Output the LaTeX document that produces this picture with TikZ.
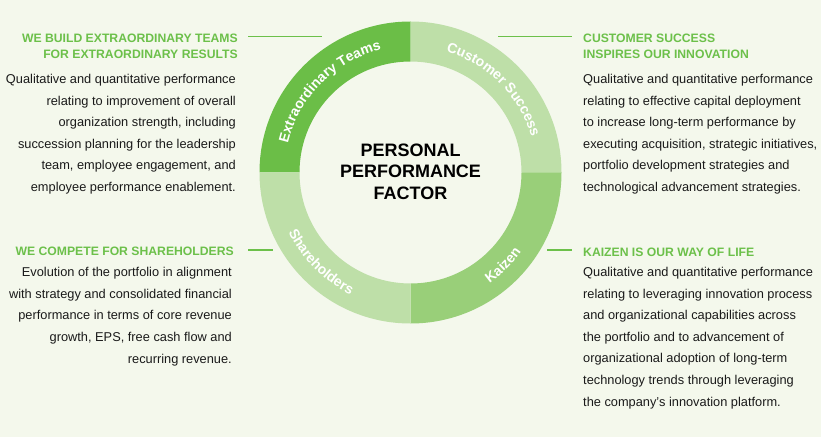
\documentclass[tikz,border=0pt]{standalone}
\usepackage{fontspec}
\setmainfont{Liberation Sans}
\usetikzlibrary{decorations.text}
\definecolor{bgc}{HTML}{F4F8EC}
\definecolor{segdark}{HTML}{6BBE47}
\definecolor{seglight}{HTML}{BEDFA8}
\definecolor{segmid}{HTML}{99CF79}
\definecolor{headgreen}{HTML}{6CC04A}
\definecolor{bodyc}{HTML}{1A1A1A}
\tikzset{
  headtxt/.style={inner sep=0pt, text=headgreen, font=\fontsize{12.2}{16}\selectfont\bfseries},
  bodytxt/.style={inner sep=0pt, text=bodyc, font=\fontsize{12.8}{21.6}\selectfont},
  leadline/.style={draw=headgreen, line width=1.5pt},
  ringlabel/.style={decorate, decoration={text along path, text align=center,
      text={|\fontsize{14}{15}\selectfont\bfseries\color{white}|#1}}}
}
\begin{document}
\begin{tikzpicture}[x=1pt,y=1pt]
\useasboundingbox (0,0) rectangle (821,437);
\fill[bgc] (0,0) rectangle (821,437);
\coordinate (c) at (410.5,264.5);
% ring segments
\fill[segdark] ([shift={(90:151)}]c) arc[start angle=90,end angle=180,radius=151]
  -- ([shift={(180:111)}]c) arc[start angle=180,end angle=90,radius=111] -- cycle;
\fill[seglight] ([shift={(0:151)}]c) arc[start angle=0,end angle=90,radius=151]
  -- ([shift={(90:111)}]c) arc[start angle=90,end angle=0,radius=111] -- cycle;
\fill[segmid] ([shift={(270:151)}]c) arc[start angle=270,end angle=360,radius=151]
  -- ([shift={(0:111)}]c) arc[start angle=360,end angle=270,radius=111] -- cycle;
\fill[seglight] ([shift={(180:151)}]c) arc[start angle=180,end angle=270,radius=151]
  -- ([shift={(270:111)}]c) arc[start angle=270,end angle=180,radius=111] -- cycle;
% ring labels
\path[ringlabel={Extraordinary Teams}] ([shift={(180:126)}]c) arc[start angle=180,end angle=90,radius=126];
\path[ringlabel={Customer Success}] ([shift={(90:126)}]c) arc[start angle=90,end angle=0,radius=126];
\path[ringlabel={Shareholders}] ([shift={(180:136)}]c) arc[start angle=180,end angle=270,radius=136];
\path[ringlabel={Kaizen}] ([shift={(270:136)}]c) arc[start angle=270,end angle=360,radius=136];
% centre
\node[align=center, inner sep=0pt, font=\fontsize{18}{21.5}\selectfont\bfseries, text=black] (ppf) at (410.5,265.5)
  {PERSONAL\\PERFORMANCE\\FACTOR};
% lead lines
\coordinate (l1a) at (248,400.3); \coordinate (l1b) at (322,400.3);
\coordinate (l2a) at (498,400.3); \coordinate (l2b) at (572,400.3);
\coordinate (l3a) at (248,187);   \coordinate (l3b) at (273,187);
\coordinate (l4a) at (547,187);   \coordinate (l4b) at (572,187);
\draw[leadline] (l1a) -- (l1b);
\draw[leadline] (l2a) -- (l2b);
\draw[leadline] (l3a) -- (l3b);
\draw[leadline] (l4a) -- (l4b);
% top left
\node[headtxt, align=right, anchor=north east] (h1) at (238,403.3)
  {WE BUILD EXTRAORDINARY TEAMS\\FOR EXTRAORDINARY RESULTS};
\node[bodytxt, align=right, anchor=north east] (b1) at (236,363)
  {Qualitative and quantitative performance\\relating to improvement of overall\\organization strength, including\\succession planning for the leadership\\team, employee engagement, and\\employee performance enablement.};
% top right
\node[headtxt, align=left, anchor=north west] (h2) at (583,403.3)
  {CUSTOMER SUCCESS\\INSPIRES OUR INNOVATION};
\node[bodytxt, align=left, anchor=north west] (b2) at (583,363)
  {Qualitative and quantitative performance\\relating to effective capital deployment\\to increase long-term performance by\\executing acquisition, strategic initiatives,\\portfolio development strategies and\\technological advancement strategies.};
% bottom left
\node[headtxt, align=right, anchor=north east] (h3) at (234,190.3)
  {WE COMPETE FOR SHAREHOLDERS};
\node[bodytxt, align=right, anchor=north east] (b3) at (232,169.7)
  {Evolution of the portfolio in alignment\\with strategy and consolidated financial\\performance in terms of core revenue\\growth, EPS, free cash flow and\\recurring revenue.};
% bottom right
\node[headtxt, align=left, anchor=north west] (h4) at (583,189.3)
  {KAIZEN IS OUR WAY OF LIFE};
\node[bodytxt, align=left, anchor=north west] (b4) at (583,170)
  {Qualitative and quantitative performance\\relating to leveraging innovation process\\and organizational capabilities across\\the portfolio and to advancement of\\organizational adoption of long-term\\technology trends through leveraging\\the company’s innovation platform.};
\end{tikzpicture}
\end{document}
